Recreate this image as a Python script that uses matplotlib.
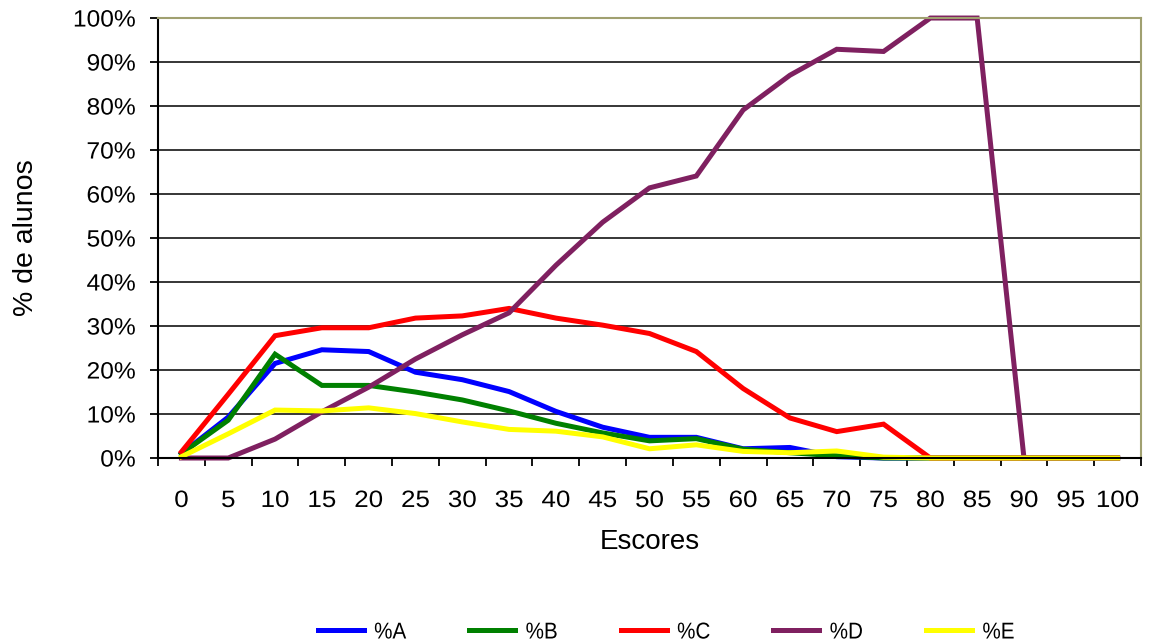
import matplotlib
matplotlib.use("Agg")
import matplotlib.pyplot as plt
from matplotlib.ticker import FixedLocator, PercentFormatter
from matplotlib.patheffects import AbstractPathEffect
from matplotlib.transforms import Affine2D

plt.rcParams['font.family'] = ['Liberation Sans', 'DejaVu Sans']

# Score bins and share of students per group (%)
escores = [0, 5, 10, 15, 20, 25, 30, 35, 40, 45, 50, 55, 60, 65, 70, 75, 80, 85, 90, 95, 100]
pct_a = [1.0, 9.3, 21.5, 24.6, 24.2, 19.5, 17.8, 15.1, 10.6, 7.0, 4.7, 4.7, 2.1, 2.4, 0.3, 0, 0, 0, 0, 0, 0]
pct_b = [1.0, 8.6, 23.6, 16.5, 16.5, 15.0, 13.2, 10.7, 7.9, 5.7, 3.9, 4.4, 2.0, 1.2, 0.5, 0, 0, 0, 0, 0, 0]
pct_c = [1.4, 14.5, 27.8, 29.6, 29.6, 31.8, 32.3, 34.0, 31.8, 30.2, 28.3, 24.2, 15.8, 9.1, 6.0, 7.7, 0, 0, 0, 0, 0]
pct_d = [0, 0, 4.3, 10.5, 16.1, 22.5, 28.0, 33.0, 43.8, 53.6, 61.4, 64.1, 79.1, 87.0, 92.9, 92.4, 100, 100, 0, 0, 0]
pct_e = [0.3, 5.5, 10.9, 10.7, 11.4, 10.1, 8.2, 6.5, 6.1, 4.8, 2.1, 3.0, 1.5, 1.2, 1.6, 0.2, 0, 0, 0, 0, 0]

series = [
    ("%A", pct_a, "#0000ff"),
    ("%B", pct_b, "#008000"),
    ("%C", pct_c, "#ff0000"),
    ("%D", pct_d, "#7f2060"),
    ("%E", pct_e, "#ffff00"),
]


class Stretch(AbstractPathEffect):
    """Scale glyphs horizontally around an anchor (0=left, 0.5=centre, 1=right)."""

    def __init__(self, sx=1.0, anchor=0.0):
        super().__init__()
        self.sx = sx
        self.anchor = anchor

    def draw_path(self, renderer, gc, tpath, affine, rgbFace=None):
        ext = tpath.get_extents()
        x0 = ext.x0 + self.anchor * ext.width
        scale = Affine2D().translate(-x0, 0).scale(self.sx, 1).translate(x0, 0)
        renderer.draw_path(gc, tpath, scale + affine, rgbFace)


fig = plt.figure(figsize=(11.51, 6.44), dpi=100)
ax = fig.add_axes([0.1373, 0.2888, 0.8540, 0.6832])

xpos = list(range(len(escores)))
for name, vals, color in series:
    ax.plot(xpos, vals, color=color, lw=3.6, label=name, clip_on=False,
            solid_joinstyle='miter')

ax.set_xlim(-0.5, len(escores) - 0.5)
ax.set_ylim(0, 100)

# category boundaries carry the tick marks, labels sit in the middle
ax.xaxis.set_major_locator(FixedLocator([i - 0.5 for i in range(len(escores) + 1)]))
ax.xaxis.set_minor_locator(FixedLocator(xpos))
ax.set_xticklabels([])
ax.set_xticklabels([str(v) for v in escores], minor=True)
ax.tick_params(axis='x', which='major', direction='out', length=6, width=1.3, color='black')
ax.tick_params(axis='x', which='minor', length=0, pad=23, labelsize=17)

ax.set_yticks(range(0, 101, 10))
ax.yaxis.set_major_formatter(PercentFormatter(decimals=0))
ax.tick_params(axis='y', direction='out', length=6, width=1.3, pad=10, labelsize=17)

ax.grid(axis='y', color='black', lw=1.1)
ax.set_axisbelow(True)

for side in ('left', 'bottom'):
    ax.spines[side].set_color('black')
    ax.spines[side].set_linewidth(1.5)
for side in ('top', 'right'):
    ax.spines[side].set_color('#a0a070')
    ax.spines[side].set_linewidth(1.5)

ax.set_xlabel('Escores', fontsize=20, labelpad=12)
ax.set_ylabel('% de alunos', fontsize=20.5, labelpad=26)

for lab in ax.get_xticklabels(minor=True):
    lab.set_path_effects([Stretch(sx=1.1, anchor=0.5)])
for lab in ax.get_yticklabels():
    lab.set_path_effects([Stretch(sx=1.04, anchor=1.0)])

leg = fig.legend(loc='center', bbox_to_anchor=(668 / 1151, 1 - 632 / 644), ncol=5,
                 frameon=False, fontsize=16.5, handlelength=2.0, handletextpad=0.45,
                 columnspacing=2.6)
for t in leg.get_texts():
    t.set_path_effects([Stretch(sx=0.9, anchor=0.0)])

fig.savefig('out.png', dpi=100)
